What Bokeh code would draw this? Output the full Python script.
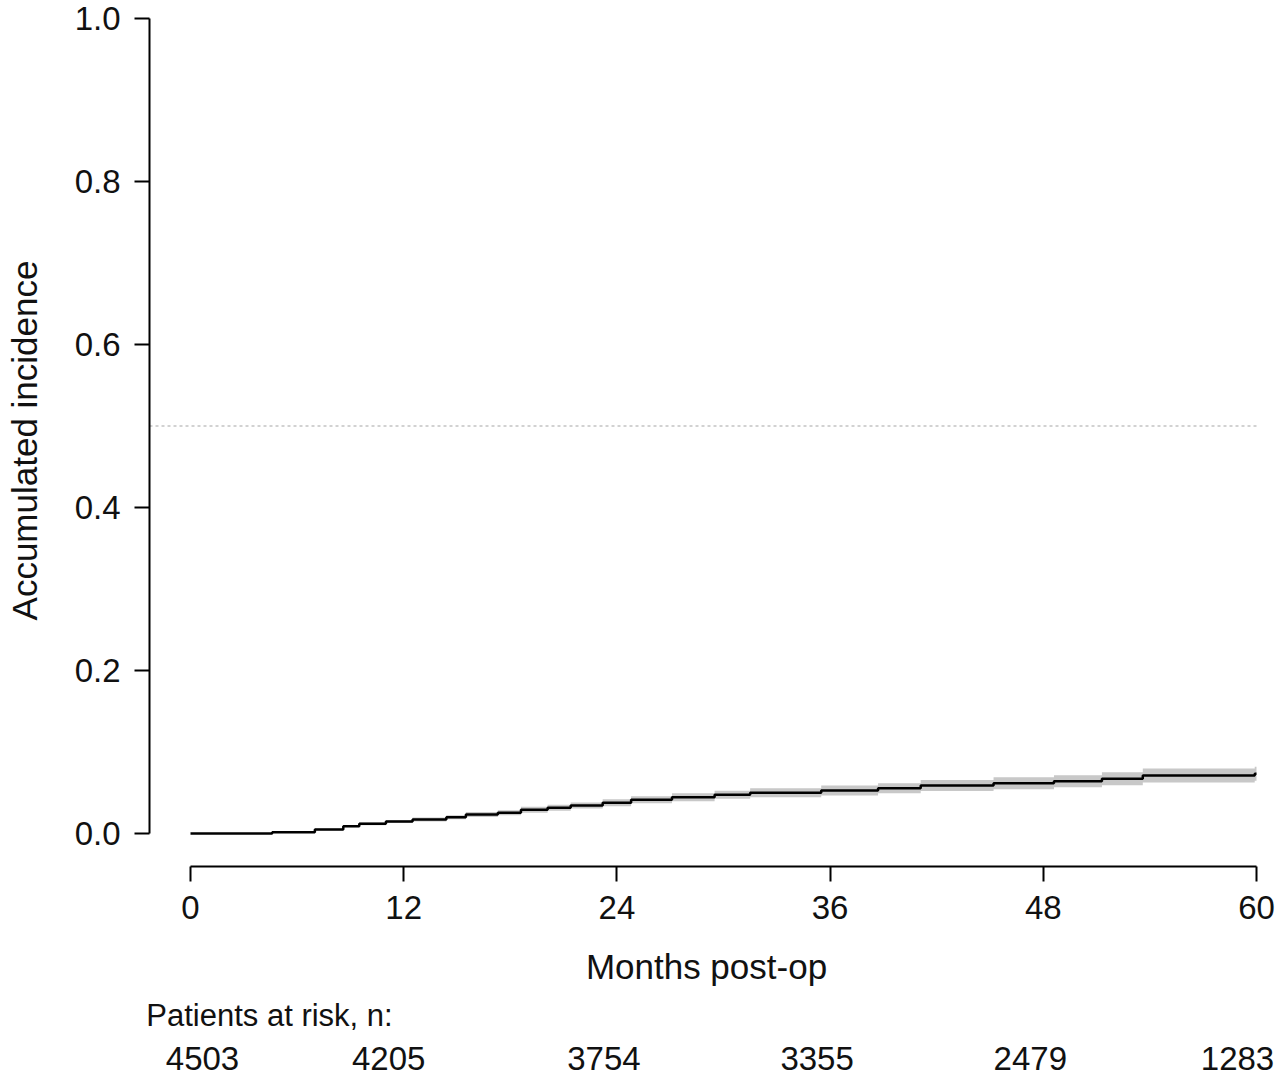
from bokeh.plotting import figure
from bokeh.models import (FixedTicker, PrintfTickFormatter, Range1d, ColumnDataSource,
                          LinearAxis)
from bokeh.embed import file_html
from bokeh.resources import INLINE

# ---- data ----
months = [0, 4.6, 7.0, 8.6, 9.5, 11.0, 12.5, 14.4, 15.5, 17.3, 18.6, 20.1, 21.4,
          23.2, 24.8, 27.1, 29.5, 31.5, 35.5, 38.7, 41.1, 45.2, 48.6, 51.3, 53.6, 59.9, 60]
incidence = [0, .0016, .0049, .0090, .0119, .0147, .0172, .0200, .0233, .0254, .0291,
             .0315, .0344, .0377, .0413, .0445, .0475, .0500, .0528, .0556, .0589,
             .0617, .0642, .0671, .0712, .0733, .0733]
ci_lower = [0, .0010, .0037, .0078, .0101, .0129, .0147, .0175, .0202, .0223, .0254,
            .0278, .0307, .0334, .0370, .0396, .0426, .0445, .0467, .0495, .0522,
            .0543, .0568, .0591, .0626, .0647, .0647]
ci_upper = [0, .0022, .0061, .0102, .0137, .0165, .0197, .0225, .0264, .0285, .0328,
            .0352, .0381, .0420, .0456, .0494, .0524, .0555, .0589, .0617, .0656,
            .0691, .0716, .0751, .0798, .0819, .0819]
reference_level = 0.5

x_ticks = [0, 12, 24, 36, 48, 60]
y_ticks = [0.0, 0.2, 0.4, 0.6, 0.8, 1.0]
risk_months = [0, 12, 24, 36, 48, 60]
at_risk = [4503, 4205, 3754, 3355, 2479, 1283]

x_label = "Months post-op"
y_label = "Accumulated incidence"
risk_title = "Patients at risk, n:"

# ---- layout / style ----
FONT = "Liberation Sans"
FS_TICK = "33px"
FS_LABEL = "35px"
FS_TITLE = "31px"
INK = "#111111"
W = 1275
H = 1076
BL, BR, BT = 149, 12, 14
PPM = (1256 - 190) / 60.0           # pixels per month
PPU = 815.0                          # pixels per unit of incidence
X_START, X_END = -41 / PPM, 60 + 7 / PPM
Y_START, Y_END = -33 / PPU, 1 + 4 / PPU
BB = H - BT - int(round((Y_END - Y_START) * PPU))
risk_offsets_px = [12, -15, -13, -13, -13, -19]
title_center_px = 79                 # centre of the risk title, px right of month 0

p = figure(width=W, height=H, output_backend="svg", toolbar_location=None,
           x_range=Range1d(X_START, X_END), y_range=Range1d(Y_START, Y_END),
           min_border_left=BL, min_border_right=BR, min_border_top=BT,
           min_border_bottom=BB)
p.outline_line_color = None
p.grid.visible = False
p.background_fill_color = "white"
p.border_fill_color = "white"

src = ColumnDataSource(dict(x=months, y=incidence, lo=ci_lower, hi=ci_upper))
p.varea_step(x="x", y1="lo", y2="hi", source=src, step_mode="after",
             fill_color="#c8c8c8", fill_alpha=1.0)
p.step(x="x", y="y", source=src, mode="after", line_color="black", line_width=2.5)

p.segment(x0=[X_START], y0=[reference_level], x1=[x_ticks[-1]], y1=[reference_level],
          line_color="#c4c4c4", line_width=1.5, line_dash="3 3")

for ax in (p.xaxis[0], p.yaxis[0]):
    ax.axis_line_width = 2
    ax.major_tick_line_width = 2
    ax.major_tick_in = 0
    ax.major_tick_out = 15
    ax.minor_tick_line_color = None
    ax.major_label_text_font = FONT
    ax.major_label_text_font_size = FS_TICK
    ax.major_label_text_color = INK
    ax.axis_label_text_font = FONT
    ax.axis_label_text_font_size = FS_LABEL
    ax.axis_label_text_font_style = "normal"
    ax.axis_label_text_color = INK

p.xaxis[0].ticker = FixedTicker(ticks=x_ticks)
p.xaxis[0].bounds = (x_ticks[0], x_ticks[-1])
p.xaxis[0].major_label_standoff = 14
p.xaxis[0].axis_label = x_label
p.xaxis[0].axis_label_standoff = 25

p.yaxis[0].ticker = FixedTicker(ticks=y_ticks)
p.yaxis[0].formatter = PrintfTickFormatter(format="%.1f")
p.yaxis[0].bounds = (y_ticks[0], y_ticks[-1])
p.yaxis[0].major_label_standoff = 14
p.yaxis[0].axis_label = y_label
p.yaxis[0].axis_label_standoff = 28


def text_axis(ticks, labels, font_size, standoff):
    ax = LinearAxis(ticker=FixedTicker(ticks=ticks),
                    major_label_overrides={t: s for t, s in zip(ticks, labels)})
    ax.axis_line_color = None
    ax.major_tick_line_color = None
    ax.minor_tick_line_color = None
    ax.major_tick_in = 0
    ax.major_tick_out = 0
    ax.major_label_standoff = standoff
    ax.major_label_text_font = FONT
    ax.major_label_text_font_size = font_size
    ax.major_label_text_color = INK
    return ax


# risk table: two extra label rows below the month axis
title_pos = [title_center_px / PPM]
p.add_layout(text_axis(title_pos, [risk_title], FS_TITLE, 9), "below")
risk_pos = [m + o / PPM for m, o in zip(risk_months, risk_offsets_px)]
p.add_layout(text_axis(risk_pos, [str(n) for n in at_risk], FS_TICK, 11), "below")

open("out.html", "w").write(file_html(p, INLINE))
